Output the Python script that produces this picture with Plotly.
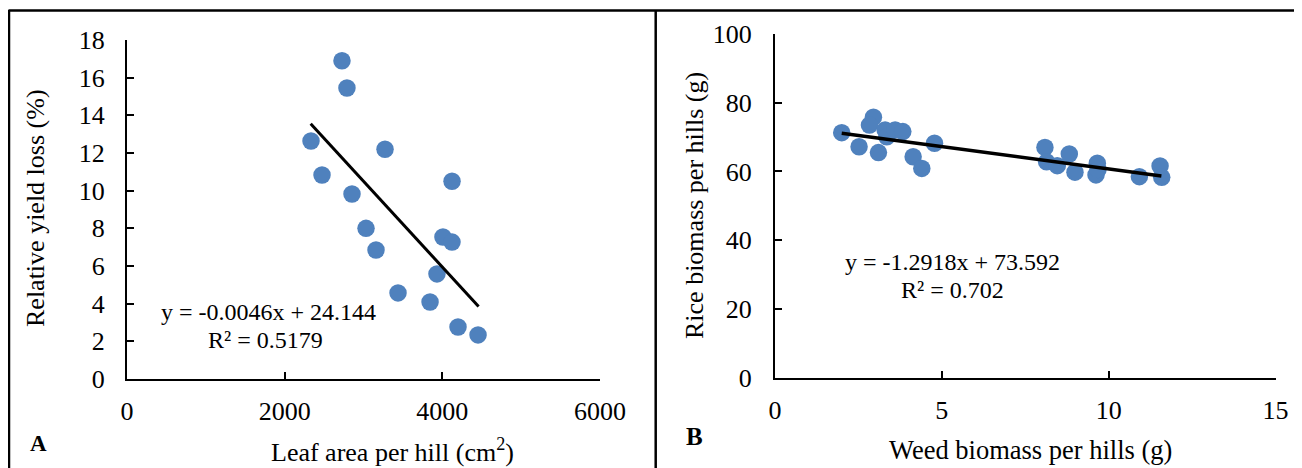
import plotly.graph_objects as go

# ---- Data ----
leaf_area = [2727, 2790, 2334, 3273, 2474, 4123, 2854, 3032, 4008, 4123, 3159, 3932, 3438, 3844, 4199, 4453]
yield_loss = [16.9, 15.45, 12.64, 12.2, 10.83, 10.5, 9.82, 8.0, 7.54, 7.27, 6.85, 5.58, 4.57, 4.09, 2.76, 2.34]
trend_a_x = [2330, 4460]
trend_a_y = [13.55, 3.85]

weed_biomass = [2.0, 2.52, 3.10, 2.95, 2.83, 3.30, 3.35, 3.6, 3.83, 4.14, 4.40, 4.78,
                8.09, 8.14, 8.46, 8.82, 8.99, 9.66, 9.62, 9.68, 10.92, 11.54, 11.59]
rice_biomass = [71.3, 67.2, 65.5, 75.8, 73.5, 72.1, 70.1, 72.1, 71.6, 64.3, 60.9, 68.2,
                67.0, 62.8, 61.7, 65.1, 59.8, 62.4, 59.0, 60.6, 58.5, 61.6, 58.3]
trend_b_x = [2.0, 11.58]
trend_b_y = [71.1, 58.7]

x_ticks_a = [0, 2000, 4000, 6000]
y_ticks_a = [0, 2, 4, 6, 8, 10, 12, 14, 16, 18]
x_ticks_b = [0, 5, 10, 15]
y_ticks_b = [0, 20, 40, 60, 80, 100]

eq_a = ["y = -0.0046x + 24.144", "R² = 0.5179"]
eq_b = ["y = -1.2918x + 73.592", "R² = 0.702"]

# ---- Style ----
OFF = 8                      # page body margin offset
W, H = 1302 - OFF, 468 - OFF
FONT = "Liberation Serif, Times New Roman, serif"
BLUE = "#4F81BD"

def px(x):
    return (x - OFF) / W

def py(y):
    return 1 - (y - OFF) / H

fig = go.Figure()

fig.add_trace(go.Scatter(x=leaf_area, y=yield_loss, mode="markers",
                         marker=dict(color=BLUE, size=17.5), xaxis="x", yaxis="y",
                         showlegend=False))
fig.add_trace(go.Scatter(x=trend_a_x, y=trend_a_y, mode="lines",
                         line=dict(color="black", width=3), xaxis="x", yaxis="y",
                         showlegend=False))
fig.add_trace(go.Scatter(x=weed_biomass, y=rice_biomass, mode="markers",
                         marker=dict(color=BLUE, size=17.5), xaxis="x2", yaxis="y2",
                         showlegend=False))
fig.add_trace(go.Scatter(x=trend_b_x, y=trend_b_y, mode="lines",
                         line=dict(color="black", width=3.5), xaxis="x2", yaxis="y2",
                         showlegend=False))

axis_common = dict(showgrid=False, zeroline=False, showline=True, linecolor="black",
                   linewidth=2, ticks="inside", ticklen=7, tickwidth=1.5, tickcolor="black",
                   automargin=False,
                   tickfont=dict(family=FONT, size=26, color="black"))

fig.update_layout(
    width=W, height=H, autosize=False,
    margin=dict(l=0, r=0, t=0, b=0, pad=0, autoexpand=False),
    showlegend=False,
    paper_bgcolor="white", plot_bgcolor="white",
    font=dict(family=FONT, color="black"),
    xaxis=dict(domain=[px(127), px(600)], range=[0, 6000], tickvals=x_ticks_a,
               anchor="y", ticklabelstandoff=8, **axis_common),
    yaxis=dict(domain=[py(379), py(40)], range=[0, 18], tickvals=y_ticks_a,
               anchor="x", ticklabelstandoff=15, **axis_common),
    xaxis2=dict(domain=[px(775), px(1275.5)], range=[0, 15], tickvals=x_ticks_b,
                anchor="y2", ticklabelstandoff=8, **axis_common),
    yaxis2=dict(domain=[py(377.7), py(34)], range=[0, 100], tickvals=y_ticks_b,
                anchor="x2", ticklabelstandoff=16, **axis_common),
)

def ann(text, x, y, size=26, bold=False, angle=0):
    return dict(text=f"<b>{text}</b>" if bold else text, x=px(x), y=py(y),
                xref="paper", yref="paper", xanchor="center", yanchor="middle",
                showarrow=False, textangle=angle,
                font=dict(family=FONT, size=size, color="black"))

annotations = [
    ann("Relative yield loss (%)", 36, 208, angle=-90),
    ann("Rice biomass per hills (g)", 695, 206, angle=-90),
    ann("Leaf area per hill (cm<sup>2</sup>)", 392, 450),
    ann("Weed biomass per hills (g)", 1030, 450, size=26.5),
    ann("A", 38, 443, size=23, bold=True),
    ann("B", 694, 436, size=25, bold=True),
    ann(eq_a[0], 268, 312, size=24),
    ann(eq_a[1], 265, 340, size=24),
    ann(eq_b[0], 952.5, 262, size=24),
    ann(eq_b[1], 952.5, 290, size=24),
]
fig.update_layout(annotations=annotations)

shapes = [
    dict(type="line", xref="paper", yref="paper", x0=px(OFF + 0.5), x1=1, y0=py(10.5), y1=py(10.5),
         line=dict(color="black", width=2.5)),
    dict(type="line", xref="paper", yref="paper", x0=px(OFF + 1), x1=px(OFF + 1), y0=py(10), y1=0,
         line=dict(color="black", width=2.5)),
    dict(type="line", xref="paper", yref="paper", x0=px(655.7), x1=px(655.7), y0=py(10), y1=0,
         line=dict(color="black", width=2.5)),
]
fig.update_layout(shapes=shapes)

fig.write_html("out.html")
